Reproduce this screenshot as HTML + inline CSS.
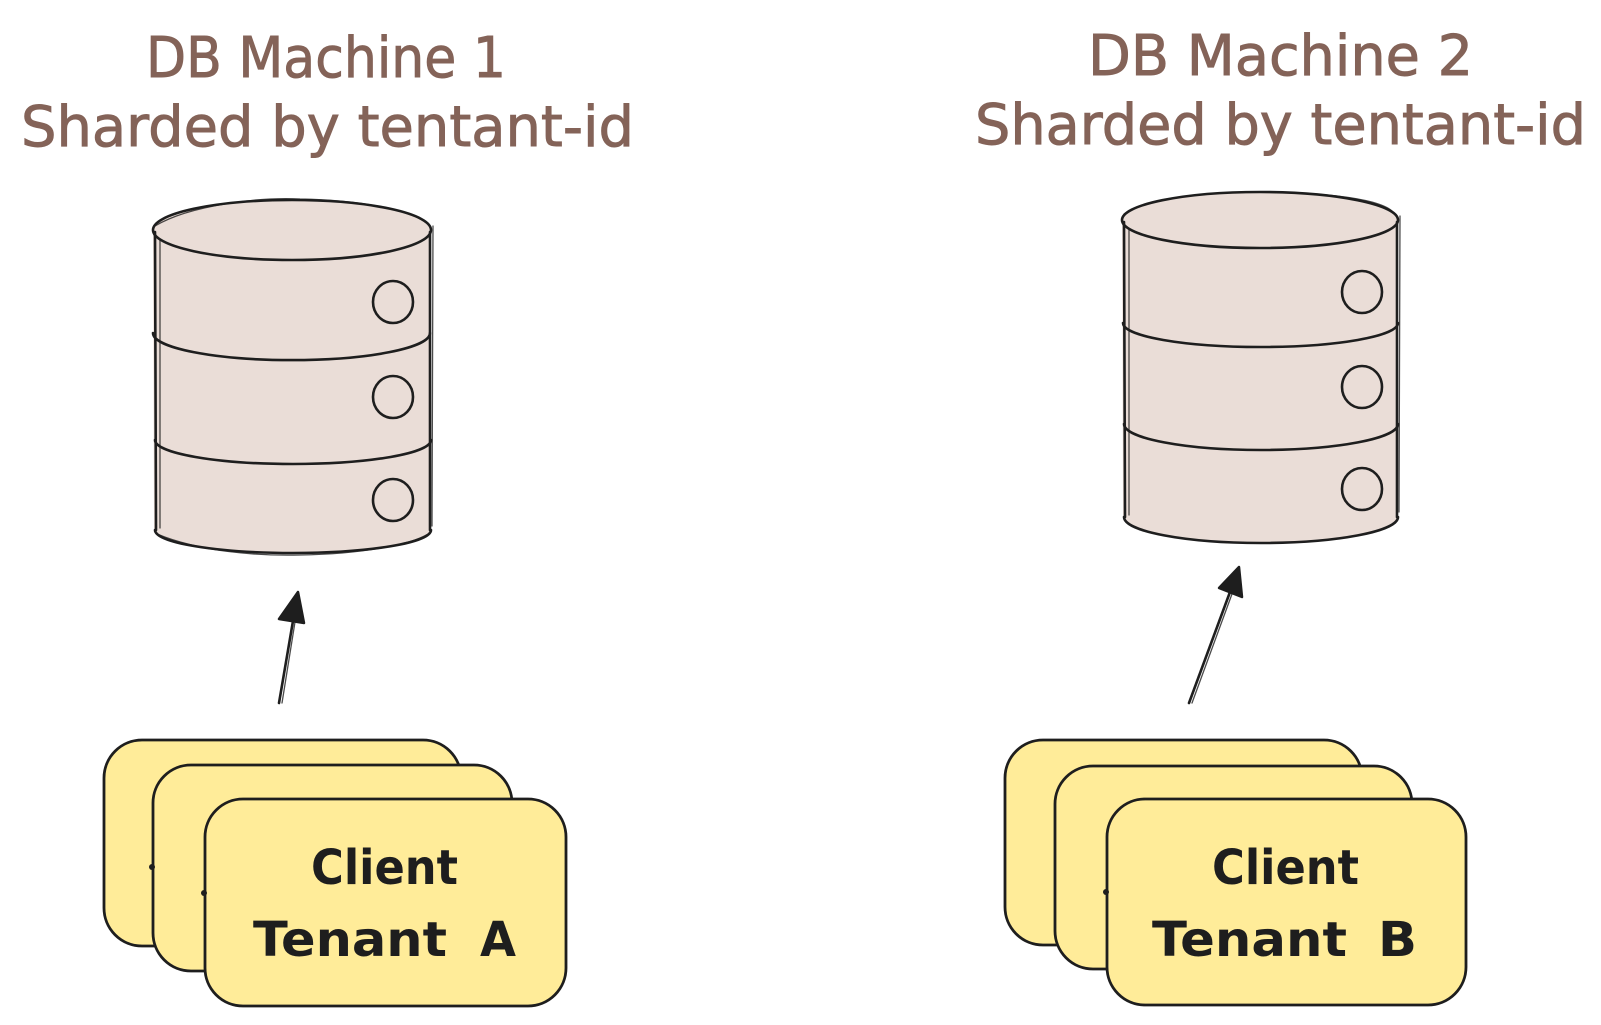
<!DOCTYPE html>
<html>
<head>
<meta charset="utf-8">
<style>
  html, body { margin: 0; padding: 0; background: #ffffff; }
  body { width: 1601px; height: 1025px; overflow: hidden; }
  svg { display: block; }
  .title { font-family: "DejaVu Sans", "Liberation Sans", sans-serif; font-size: 56px; fill: #846358; stroke: #846358; stroke-width: 0.9; }
  .card { font-family: "DejaVu Sans", "Liberation Sans", sans-serif; font-size: 48px; font-weight: bold; fill: #1e1e1e; }
  .stk { fill: none; stroke: #1e1e1e; stroke-width: 2.6; stroke-linecap: round; stroke-linejoin: round; }
  .stk2 { fill: none; stroke: #1e1e1e; stroke-width: 1.3; stroke-linecap: round; opacity: 0.8; }
  .cardr { fill: #ffec99; stroke: #1e1e1e; stroke-width: 2.8; }
</style>
</head>
<body>
<svg width="1601" height="1025" viewBox="0 0 1601 1025" xmlns="http://www.w3.org/2000/svg">

  <!-- Titles -->
  <text class="title" x="146" y="77" textLength="360" lengthAdjust="spacingAndGlyphs">DB Machine 1</text>
  <text class="title" x="21" y="146" textLength="613" lengthAdjust="spacingAndGlyphs">Sharded by tentant-id</text>
  <text class="title" x="1088" y="75" textLength="385" lengthAdjust="spacingAndGlyphs">DB Machine 2</text>
  <text class="title" x="975" y="144" textLength="611" lengthAdjust="spacingAndGlyphs">Sharded by tentant-id</text>

  <!-- Cylinder 1 -->
  <path d="M153,230 L154,530 A138,23 0 0 0 431,530 L431,230 A139,30 0 0 0 153,230 Z" fill="#eaddd7"/>
  <ellipse class="stk" cx="292" cy="230" rx="139" ry="30"/>
  <path class="stk2" d="M155,226 C190,205 260,197 300,199 C360,200 410,210 425,222"/>
  <path class="stk" d="M155,232 L156,530"/>
  <path class="stk2" d="M160,240 L160,528"/>
  <path class="stk" d="M430,232 L430,530"/>
  <path class="stk2" d="M433,226 L432,526"/>
  <path class="stk" d="M153,333 A138,27 0 0 0 430,333"/>
  <path class="stk" d="M155,440 A138,24 0 0 0 431,440"/>
  <path class="stk" d="M155,530 A138,23 0 0 0 431,530"/>
  <path class="stk2" d="M157,534 C200,552 260,556 300,555 C360,554 410,545 428,534"/>
  <ellipse class="stk" cx="393" cy="302" rx="20" ry="21"/>
  <ellipse class="stk" cx="393" cy="397" rx="20" ry="21"/>
  <ellipse class="stk" cx="393" cy="500" rx="20" ry="21"/>

  <!-- Cylinder 2 -->
  <path d="M1122,220 L1123,517 A137.5,26 0 0 0 1398,517 L1398,220 A138,28 0 0 0 1122,220 Z" fill="#eaddd7"/>
  <ellipse class="stk" cx="1260" cy="220" rx="138" ry="28"/>
  <path class="stk2" d="M1124,214 C1150,198 1200,193 1250,192 C1320,192 1380,198 1393,212"/>
  <path class="stk" d="M1124,222 L1125,517"/>
  <path class="stk2" d="M1129,230 L1129,515"/>
  <path class="stk" d="M1397,222 L1397,517"/>
  <path class="stk2" d="M1400,216 L1399,512"/>
  <path class="stk" d="M1123,323 A137.5,24 0 0 0 1398,323"/>
  <path class="stk" d="M1124,424 A137,26 0 0 0 1398,424"/>
  <path class="stk" d="M1124,517 A137,26 0 0 0 1398,517"/>
  <ellipse class="stk" cx="1362" cy="292" rx="20" ry="21"/>
  <ellipse class="stk" cx="1362" cy="387" rx="20" ry="21"/>
  <ellipse class="stk" cx="1362" cy="489" rx="20" ry="21"/>

  <!-- Arrow 1 -->
  <path class="stk" d="M279,703 L293,621"/>
  <path class="stk2" d="M282,703 L295,622"/>
  <polygon points="298,592 279,619 304,623" fill="#1e1e1e" stroke="#1e1e1e" stroke-width="2.5" stroke-linejoin="round"/>

  <!-- Arrow 2 -->
  <path class="stk" d="M1189,703 L1230,592"/>
  <path class="stk2" d="M1192,703 L1232,594"/>
  <polygon points="1239,567 1219,588 1242,597" fill="#1e1e1e" stroke="#1e1e1e" stroke-width="2.5" stroke-linejoin="round"/>

  <!-- Cards A -->
  <rect class="cardr" x="104" y="740" width="357" height="206" rx="38" ry="38"/>
  <rect class="cardr" x="153" y="765" width="359" height="206" rx="38" ry="38"/>
  <rect class="cardr" x="205" y="799" width="361" height="207" rx="38" ry="38"/>
  <circle cx="152" cy="867" r="3" fill="#1e1e1e"/>
  <circle cx="204" cy="893" r="3" fill="#1e1e1e"/>
  <text class="card" x="311" y="884" textLength="147" lengthAdjust="spacingAndGlyphs">Client</text>
  <text class="card" x="253" y="956" textLength="194" lengthAdjust="spacingAndGlyphs">Tenant</text>
  <text class="card" x="480" y="956" textLength="36" lengthAdjust="spacingAndGlyphs">A</text>

  <!-- Cards B -->
  <rect class="cardr" x="1005" y="740" width="357" height="205" rx="38" ry="38"/>
  <rect class="cardr" x="1055" y="766" width="357" height="203" rx="38" ry="38"/>
  <rect class="cardr" x="1107" y="799" width="359" height="206" rx="38" ry="38"/>
  <circle cx="1106" cy="892" r="3" fill="#1e1e1e"/>
  <text class="card" x="1212" y="884" textLength="147" lengthAdjust="spacingAndGlyphs">Client</text>
  <text class="card" x="1152" y="956" textLength="195" lengthAdjust="spacingAndGlyphs">Tenant</text>
  <text class="card" x="1378" y="956" textLength="39" lengthAdjust="spacingAndGlyphs">B</text>

</svg>
</body>
</html>
